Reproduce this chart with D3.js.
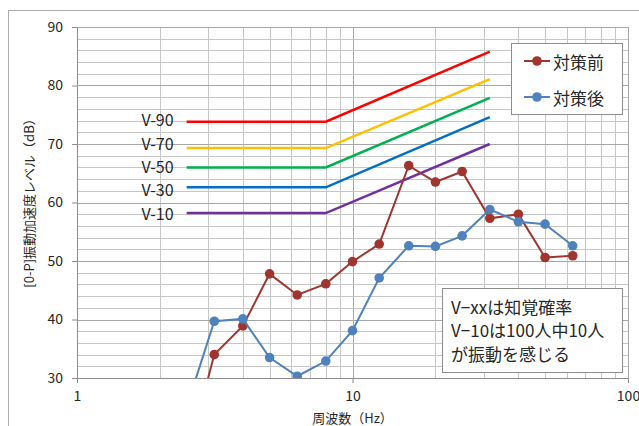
<!DOCTYPE html>
<html>
<head>
<meta charset="utf-8">
<script src="https://cdn.jsdelivr.net/npm/d3@7"></script>
<style>
body { margin: 0; background: #fff; }
text { font-family: "Noto Sans CJK JP", sans-serif; fill: #262626; }
</style>
</head>
<body>
<div id="chart"></div>
<script>
// datos
const freqs = [2.5, 3.15, 4, 5, 6.3, 8, 10, 12.5, 16, 20, 25, 31.5, 40, 50, 63]
const before = [16, 34, 38.9, 47.8, 44.2, 46.1, 49.9, 52.9, 66.3, 63.5, 65.3, 57.3, 58, 50.6, 50.9]
const after = [25, 39.7, 40.1, 33.5, 30.3, 32.9, 38.1, 47.1, 52.6, 52.5, 54.3, 58.8, 56.7, 56.3, 52.6]
const seriesNames = ["対策前", "対策後"]

const vNames = ["V-90", "V-70", "V-50", "V-30", "V-10"]
const vFreqs = [2.5, 8, 31.5]
const vLevels = [
    [73.8, 73.8, 85.8],
    [69.3, 69.3, 81.1],
    [66, 66, 77.9],
    [62.6, 62.6, 74.6],
    [58.2, 58.2, 70]
]

const xTicks = [1, 10, 100]
const yTicks = [30, 40, 50, 60, 70, 80, 90]
const noteLines = ["V−xxは知覚確率", "V−10は100人中10人", "が振動を感じる"]

// estilos
const seriesColors = ["#A0342F", "#4F81BD"]
const vColors = ["#FF0000", "#FFC000", "#00B050", "#0070C0", "#7030A0"]
// posicion vertical de las etiquetas V (px, independiente de las lineas)
const vLabelY = [119, 143, 166, 189, 213]

const width = 639
const height = 426
const margin = { top: 27, bottom: 48, left: 77, right: 11 }
const w = width - margin.left - margin.right
const h = height - margin.top - margin.bottom

const svg = d3.select("#chart").append("svg").attr("width", width).attr("height", height)

// borde exterior
svg.append("rect").attr("x", 8.5).attr("y", 10.5).attr("width", 700).attr("height", 500)
    .attr("fill", "none").attr("stroke", "#ABABAB")

const g = svg.append("g").attr("transform", `translate(${margin.left}, ${margin.top})`)

const x = d3.scaleLog().domain([1, 100]).range([0, w])
const y = d3.scaleLinear().domain([30, 90]).range([h, 0])

// grid
const gridGroup = g.append("g")
gridGroup.selectAll(".gx").data(x.ticks())
    .join("line")
        .attr("x1", d => Math.round(x(d)) + 0.5).attr("x2", d => Math.round(x(d)) + 0.5)
        .attr("y1", 0).attr("y2", h)
        .attr("stroke", d => xTicks.includes(d) ? "#A6A6A6" : "#C6C6C6")
gridGroup.selectAll(".gy").data(d3.range(30, 91, 2))
    .join("line")
        .attr("y1", d => Math.round(y(d)) + 0.5).attr("y2", d => Math.round(y(d)) + 0.5)
        .attr("x1", 0).attr("x2", w)
        .attr("stroke", d => yTicks.includes(d) ? "#A6A6A6" : "#C6C6C6")

// ejes
const xAxis = d3.axisBottom(x).tickValues(xTicks).tickFormat(d3.format("d")).tickSize(5).tickPadding(8)
const yAxis = d3.axisLeft(y).tickValues(yTicks).tickSize(5).tickPadding(9)
const xAxisGroup = g.append("g").attr("transform", `translate(0, ${h})`).call(xAxis)
const yAxisGroup = g.append("g").call(yAxis)
for (const ag of [xAxisGroup, yAxisGroup]) {
    ag.select(".domain").attr("stroke", "#8C8C8C")
    ag.selectAll(".tick line").attr("stroke", "#8C8C8C")
    ag.selectAll("text").attr("font-size", 14).attr("font-family", "\"Noto Sans CJK JP\", sans-serif").attr("fill", "#262626")
}

// titulos
svg.append("text").attr("x", margin.left + w / 2).attr("y", 423)
    .attr("text-anchor", "middle").attr("font-size", 13).text("周波数（Hz）")
svg.append("text").attr("transform", "translate(28, 200) rotate(-90)")
    .attr("text-anchor", "middle").attr("dominant-baseline", "central").attr("font-size", 13)
    .text("[0-P]振動加速度レベル（dB）")

// clip
svg.append("clipPath").attr("id", "plotClip").append("rect").attr("width", w).attr("height", h)

const line = d3.line().x(d => x(d[0])).y(d => y(d[1]))

// curvas V
const vData = vNames.map((name, i) => ({ name, pts: vFreqs.map((f, j) => [f, vLevels[i][j]]) }))
g.selectAll(".vline").data(vData)
    .join("path")
        .attr("d", d => line(d.pts))
        .attr("fill", "none")
        .attr("stroke", (d, i) => vColors[i])
        .attr("stroke-width", 2.5)
svg.selectAll(".vlabel").data(vData)
    .join("text")
        .attr("x", margin.left + x(vFreqs[0]) - 13)
        .attr("y", (d, i) => vLabelY[i])
        .attr("text-anchor", "end")
        .attr("dominant-baseline", "central")
        .attr("font-size", 16)
        .text(d => d.name)

// series
const seriesData = [before, after].map((vals, i) => ({ name: seriesNames[i], pts: freqs.map((f, j) => [f, vals[j]]) }))
const seriesGroup = g.append("g").attr("clip-path", "url(#plotClip)")
const sg = seriesGroup.selectAll(".series").data(seriesData).join("g")
sg.append("path")
    .attr("d", d => line(d.pts))
    .attr("fill", "none")
    .attr("stroke", (d, i) => seriesColors[i])
    .attr("stroke-width", 2)
sg.each(function (d, i) {
    d3.select(this).selectAll("circle").data(d.pts)
        .join("circle")
            .attr("cx", p => x(p[0]))
            .attr("cy", p => y(p[1]))
            .attr("r", 4.8)
            .attr("fill", seriesColors[i])
})

// leyenda
const legend = svg.append("g").attr("transform", "translate(511, 43)")
legend.append("rect").attr("x", 0.5).attr("y", 0.5).attr("width", 111).attr("height", 71)
    .attr("fill", "#fff").attr("stroke", "#8C8C8C")
const li = legend.selectAll(".li").data(seriesData).join("g")
    .attr("transform", (d, i) => `translate(0, ${18 + i * 36})`)
li.append("line").attr("x1", 13).attr("x2", 39).attr("stroke", (d, i) => seriesColors[i]).attr("stroke-width", 2)
li.append("circle").attr("cx", 26).attr("r", 4.8).attr("fill", (d, i) => seriesColors[i])
li.append("text").attr("x", 42).attr("dominant-baseline", "central").attr("font-size", 17).text(d => d.name)

// nota
const note = svg.append("g").attr("transform", "translate(442, 288)")
note.append("rect").attr("x", 0.5).attr("y", 0.5).attr("width", 180).attr("height", 84)
    .attr("fill", "#fff").attr("stroke", "#8C8C8C")
note.selectAll("text").data(noteLines).join("text")
    .attr("x", 9).attr("y", (d, i) => 18 + i * 23.5)
    .attr("dominant-baseline", "central").attr("font-size", 17)
    .text(d => d)
</script>
</body>
</html>
